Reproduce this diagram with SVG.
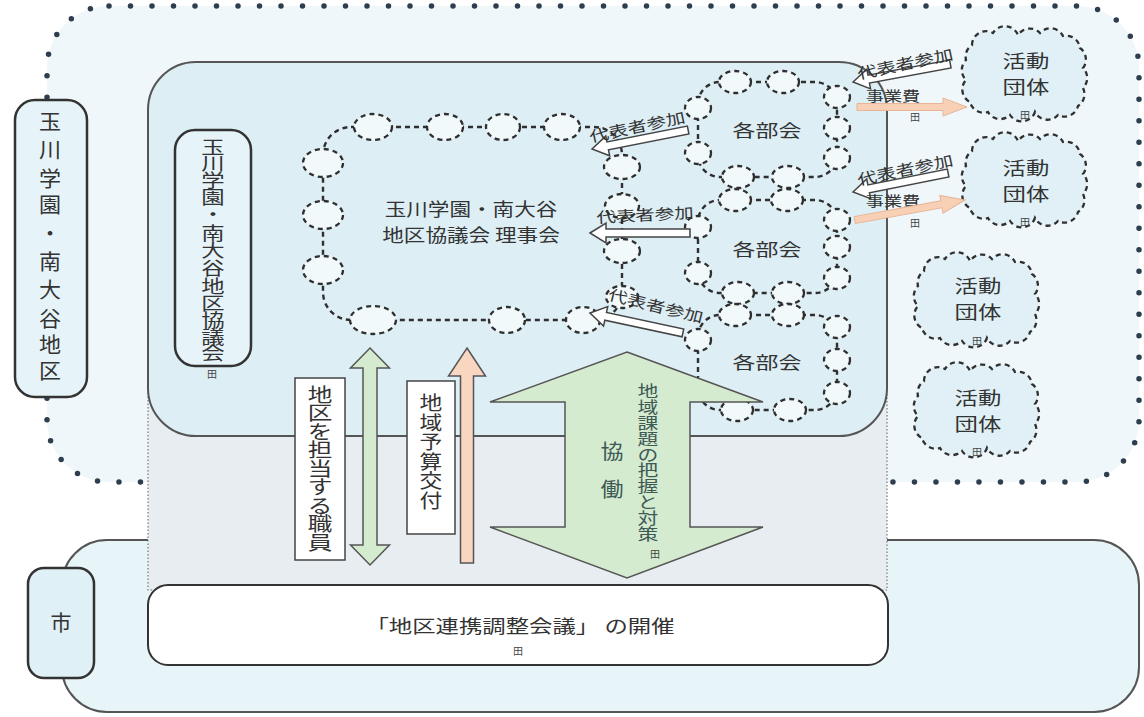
<svg xmlns="http://www.w3.org/2000/svg" width="1144" height="717" viewBox="0 0 1144 717">
<style>
.t{font-family:"Noto Sans CJK JP","Noto Sans CJK SC",sans-serif;fill:#333;dominant-baseline:central;text-anchor:middle}
.dash{fill:none;stroke:#2f2f2f;stroke-width:2.4;stroke-dasharray:5 4}
.bub{fill:#f2f9fb;stroke:#2f2f2f;stroke-width:2.3;stroke-dasharray:5 4}
.cloud{fill:#e0f0f6;stroke:#2f2f2f;stroke-width:2.3;stroke-dasharray:5 4}
.hollow{fill:#fff;stroke:#444;stroke-width:1.5}
.peach{fill:#f7d0b6;stroke:#e8b596;stroke-width:1}
.green{fill:#d5ebd0;stroke:#555;stroke-width:1.5}
.mk{font-family:"Noto Sans CJK JP",sans-serif;fill:#444;font-size:10px;dominant-baseline:central;text-anchor:middle}
</style>
<defs>
<path id="cloudShape" d="M9,13 A14,14 0 0 1 30,1 A14,14 0 0 1 55,3 A14,14 0 0 1 77,1 A14,14 0 0 1 100,4 A14,14 0 0 1 117,16 A14,14 0 0 1 120,36 A14,14 0 0 1 120,56 A14,14 0 0 1 115,74 A14,14 0 0 1 95,83 A14,14 0 0 1 72,80 A14,14 0 0 1 47,83 A14,14 0 0 1 25,80 A14,14 0 0 1 7,70 A14,14 0 0 1 3,48 A14,14 0 0 1 3,28 A14,14 0 0 1 9,13 Z"/>
</defs>
<rect width="1144" height="717" fill="#fff"/>

<g id="district-region">
<rect x="47" y="6" width="1092" height="476" rx="62" fill="#eff7fa" stroke="#2e3e4e" stroke-width="5.5" stroke-linecap="round" stroke-dasharray="0 21.5"/>
</g>

<g id="city-region">
<rect x="62" y="540" width="1077" height="172" rx="45" fill="#e7f4f8" stroke="#555" stroke-width="2"/>
</g>

<g id="link-area">
<rect x="148" y="300" width="739" height="290" fill="#e7edf0" stroke="#777" stroke-width="1.2" stroke-dasharray="1.5 2"/>
</g>

<g id="council-area">
<rect x="148" y="62" width="739" height="374" rx="48" fill="#ddeef5" stroke="#555" stroke-width="2"/>
</g>

<g id="district-label">
<rect x="15" y="100" width="72" height="297" rx="20" fill="#e6f4f9" stroke="#333" stroke-width="2.5"/>
<text class="t" font-size="21" transform="translate(50,0) scale(1.05,1)" x="0 0 0 0 0 0 0 0 0 0" y="120 148 177 203 232 260 288 317 343 369">玉川学園・南大谷地区</text>
</g>

<g id="city-label">
<rect x="28" y="568" width="66" height="110" rx="16" fill="#dff0f6" stroke="#333" stroke-width="2.5"/>
<text class="t" font-size="21" x="61" y="621">市</text>
</g>

<g id="council-label">
<rect x="175" y="130" width="76" height="236" rx="20" fill="#e6f4f9" stroke="#333" stroke-width="2.5"/>
<text class="t" font-size="18" transform="translate(213,0) scale(1.3,1)" x="0 0 0 0 0 0 0 0 0 0 0 0 0" y="146 162 179 196 213 232 249 267 285 302 319 336 352">玉川学園・南大谷地区協議会</text>
<text class="mk" x="212" y="373">田</text>
</g>

<g id="coordination-meeting">
<rect x="148" y="585" width="740" height="80" rx="20" fill="#fff" stroke="#333" stroke-width="2"/>
<text class="t" font-size="18" transform="translate(520,625) scale(1.3,1)" x="0" y="0">「地区連携調整会議」 の開催</text>
<text class="mk" x="518" y="650">田</text>
</g>

<g id="board">
<rect x="323" y="127" width="299" height="193" rx="28" class="dash"/>
<ellipse cx="373" cy="127" rx="19" ry="13" class="bub"/>
<ellipse cx="445" cy="127" rx="18" ry="13" class="bub"/>
<ellipse cx="503" cy="127" rx="17" ry="13" class="bub"/>
<ellipse cx="562" cy="127" rx="18" ry="13" class="bub"/>
<ellipse cx="323" cy="163" rx="20" ry="14" class="bub"/>
<ellipse cx="323" cy="215" rx="20" ry="14" class="bub"/>
<ellipse cx="323" cy="270" rx="20" ry="14" class="bub"/>
<ellipse cx="373" cy="320" rx="23" ry="14" class="bub"/>
<ellipse cx="507" cy="320" rx="18" ry="13" class="bub"/>
<ellipse cx="583" cy="320" rx="17" ry="13" class="bub"/>
<ellipse cx="622" cy="167" rx="18" ry="12" class="bub"/>
<ellipse cx="622" cy="206" rx="17" ry="12" class="bub"/>
<ellipse cx="622" cy="251" rx="18" ry="12" class="bub"/>
<ellipse cx="622" cy="297" rx="16" ry="11" class="bub"/>
<text class="t" font-size="18" transform="translate(471,208) scale(1.2,1)" x="0" y="0">玉川学園・南大谷</text>
<text class="t" font-size="18" transform="translate(471,234) scale(1.2,1)" x="0" y="0">地区協議会 理事会</text>
</g>

<g id="subcommittee-1">
<rect x="698" y="82" width="139" height="95" rx="22" class="dash"/>
<ellipse cx="735" cy="82" rx="16" ry="11" class="bub"/>
<ellipse cx="783" cy="82" rx="16" ry="11" class="bub"/>
<ellipse cx="837" cy="97" rx="13" ry="11" class="bub"/>
<ellipse cx="837" cy="128" rx="13" ry="11" class="bub"/>
<ellipse cx="837" cy="158" rx="13" ry="11" class="bub"/>
<ellipse cx="738" cy="177" rx="16" ry="11" class="bub"/>
<ellipse cx="788" cy="177" rx="16" ry="11" class="bub"/>
<ellipse cx="698" cy="108" rx="13" ry="11" class="bub"/>
<ellipse cx="698" cy="153" rx="13" ry="11" class="bub"/>
<text class="t" font-size="17" transform="translate(767,130) scale(1.35,1)" x="0" y="0">各部会</text>
</g>

<g id="subcommittee-2">
<rect x="698" y="200" width="139" height="93" rx="22" class="dash"/>
<ellipse cx="735" cy="200" rx="16" ry="11" class="bub"/>
<ellipse cx="787" cy="200" rx="16" ry="11" class="bub"/>
<ellipse cx="837" cy="220" rx="13" ry="11" class="bub"/>
<ellipse cx="837" cy="247" rx="13" ry="11" class="bub"/>
<ellipse cx="837" cy="278" rx="13" ry="11" class="bub"/>
<ellipse cx="738" cy="293" rx="16" ry="11" class="bub"/>
<ellipse cx="788" cy="293" rx="16" ry="11" class="bub"/>
<ellipse cx="698" cy="227" rx="13" ry="11" class="bub"/>
<ellipse cx="698" cy="273" rx="13" ry="11" class="bub"/>
<text class="t" font-size="17" transform="translate(767,249) scale(1.35,1)" x="0" y="0">各部会</text>
</g>

<g id="subcommittee-3">
<rect x="698" y="315" width="139" height="95" rx="22" class="dash"/>
<ellipse cx="735" cy="315" rx="16" ry="11" class="bub"/>
<ellipse cx="788" cy="315" rx="16" ry="11" class="bub"/>
<ellipse cx="837" cy="327" rx="13" ry="11" class="bub"/>
<ellipse cx="837" cy="360" rx="13" ry="11" class="bub"/>
<ellipse cx="837" cy="393" rx="13" ry="11" class="bub"/>
<ellipse cx="737" cy="410" rx="16" ry="11" class="bub"/>
<ellipse cx="790" cy="410" rx="16" ry="11" class="bub"/>
<ellipse cx="698" cy="340" rx="13" ry="11" class="bub"/>
<text class="t" font-size="17" transform="translate(767,362) scale(1.35,1)" x="0" y="0">各部会</text>
</g>

<g id="group-1">
<use href="#cloudShape" class="cloud" transform="translate(963,32)"/>
<text class="t" font-size="18" transform="translate(1026,60) scale(1.3,1)" x="0" y="0">活動</text>
<text class="t" font-size="18" transform="translate(1026,86) scale(1.3,1)" x="0" y="0">団体</text>
<text class="mk" x="1025" y="114">田</text>
</g>
<g id="group-2">
<use href="#cloudShape" class="cloud" transform="translate(963,138)"/>
<text class="t" font-size="18" transform="translate(1026,167) scale(1.3,1)" x="0" y="0">活動</text>
<text class="t" font-size="18" transform="translate(1026,193) scale(1.3,1)" x="0" y="0">団体</text>
<text class="mk" x="1025" y="221">田</text>
</g>
<g id="group-3">
<use href="#cloudShape" class="cloud" transform="translate(915,258)"/>
<text class="t" font-size="18" transform="translate(978,285) scale(1.3,1)" x="0" y="0">活動</text>
<text class="t" font-size="18" transform="translate(978,311) scale(1.3,1)" x="0" y="0">団体</text>
<text class="mk" x="977" y="340">田</text>
</g>
<g id="group-4">
<use href="#cloudShape" class="cloud" transform="translate(915,368)"/>
<text class="t" font-size="18" transform="translate(978,397) scale(1.3,1)" x="0" y="0">活動</text>
<text class="t" font-size="18" transform="translate(978,423) scale(1.3,1)" x="0" y="0">団体</text>
<text class="mk" x="977" y="451">田</text>
</g>

<g id="connectors">
<polygon class="hollow" transform="translate(592,149) rotate(-11.2)" points="0,0 16,-10 16,-4 98,-4 98,4 16,4 16,10"/>
<polygon class="hollow" transform="translate(590,233)" points="0,0 16,-10 16,-4 100,-4 100,4 16,4 16,10"/>
<polygon class="hollow" transform="translate(590,313) rotate(12.1)" points="0,0 16,-10 16,-4 95,-4 95,4 16,4 16,10"/>
<polygon class="hollow" transform="translate(853,82) rotate(-10.5)" points="0,0 16,-10 16,-4 99,-4 99,4 16,4 16,10"/>
<polygon class="hollow" transform="translate(853,192) rotate(-11.3)" points="0,0 16,-10 16,-4 97,-4 97,4 16,4 16,10"/>
<text class="t" font-size="15" transform="translate(637,126) rotate(-12) scale(1.3,1)" x="0" y="0">代表者参加</text>
<text class="t" font-size="15" transform="translate(645,214) rotate(-3) scale(1.3,1)" x="0" y="0">代表者参加</text>
<text class="t" font-size="15" transform="translate(656,305) rotate(14) scale(1.3,1)" x="0" y="0">代表者参加</text>
<text class="t" font-size="15" transform="translate(905,63) rotate(-12) scale(1.3,1)" x="0" y="0">代表者参加</text>
<text class="t" font-size="15" transform="translate(905,169) rotate(-12) scale(1.3,1)" x="0" y="0">代表者参加</text>
<text class="t" font-size="14" transform="translate(893,95) scale(1.3,1)" x="0" y="0">事業費</text>
<text class="t" font-size="14" transform="translate(893,200) scale(1.3,1)" x="0" y="0">事業費</text>
<polygon class="peach" transform="translate(967,107) rotate(180)" points="0,0 24,-9 24,-3.5 110,-3.5 110,3.5 24,3.5 24,9"/>
<polygon class="peach" transform="translate(965,200) rotate(169.7)" points="0,0 24,-9 24,-3.5 112,-3.5 112,3.5 24,3.5 24,9"/>
<text class="mk" x="915" y="116">田</text>
<text class="mk" x="915" y="222">田</text>
<polygon class="green" points="370,348 389.5,368 377,368 377,545 389.5,545 370,565 350.5,545 363,545 363,368 350.5,368"/>
<polygon class="green" style="fill:#f8d6c0" points="467,348 485.5,376 473.5,376 473.5,563 460.5,563 460.5,376 448.5,376"/>
<polygon class="green" points="627,352 763,402 690,402 690,527 763,527 627,578 490,527 565,527 565,402 490,402"/>
<text class="t" font-size="20" style="fill:#3e5a55" transform="translate(612,0) scale(1.15,1)" x="0 0" y="450 488">協働</text>
<text class="t" font-size="16" style="fill:#3e5a55" transform="translate(648,0) scale(1.3,1)" x="0 0 0 0 0 0 0 0 0 0" y="390 406 422 438 454 469 485 501 517 533">地域課題の把握と対策</text>
<text class="mk" x="655" y="553">田</text>
</g>

<g id="staff-label">
<rect x="295" y="378" width="50" height="182" fill="#fff" stroke="#444" stroke-width="1.5"/>
<text class="t" font-size="19" transform="translate(320,0) scale(1.3,1)" x="0 0 0 0 0 0 0 0 0" y="393 411.5 430 448.5 467 485.5 504 522.5 541">地区を担当する職員</text>
</g>

<g id="budget-label">
<rect x="407" y="381" width="48" height="153" fill="#fff" stroke="#444" stroke-width="1.5"/>
<text class="t" font-size="19" transform="translate(431,0) scale(1.2,1)" x="0 0 0 0 0 0" y="402 421.5 441 460.5 480 499.5">地域予算交付</text>
</g>
</svg>
